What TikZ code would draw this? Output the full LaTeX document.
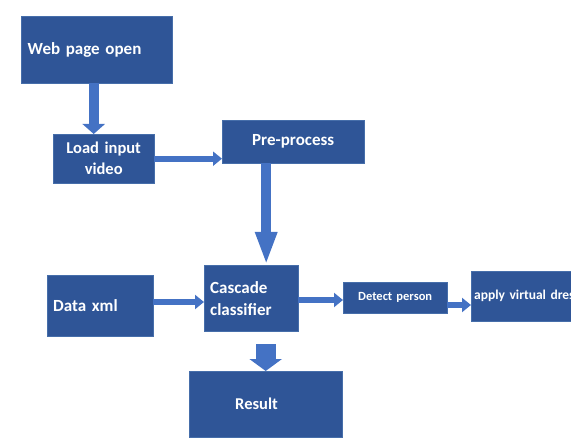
\documentclass[tikz,border=0pt]{standalone}
\usepackage{fontspec}
\setmainfont{Carlito}
\usepackage{tikz}
\usetikzlibrary{arrows.meta}

\definecolor{boxblue}{RGB}{47,85,151}
\definecolor{boxedge}{RGB}{70,110,170}
\definecolor{arrowblue}{RGB}{68,114,196}

\tikzset{
  blk/.style={draw=boxedge, fill=boxblue, text=white, font=\bfseries,
    inner sep=0pt, anchor=north west},
  thin flow/.style={draw=arrowblue, line width=6pt,
    -{Triangle[length=9pt,width=14pt]}},
  fat flow/.style={draw=arrowblue, line width=10pt,
    -{Triangle[length=10pt,width=22pt]}}
}

\begin{document}
\begin{tikzpicture}[x=1pt,y=-1pt]
      \useasboundingbox (0,0) rectangle (571,441);
      \clip (0,0) rectangle (571,441);
      % boxes
      \node [blk, minimum width=151, minimum height=67, text width=138, align=left, font=\bfseries\fontsize{17}{19}\selectfont] (web) at (21,16) {Web page open\\[4pt]};
      \node [blk, minimum width=101, minimum height=49, text width=95, align=center, font=\bfseries\fontsize{16.5}{21}\selectfont] (load) at (53,134) {Load input\\video};
      \node [blk, minimum width=142, minimum height=43, text width=130, align=center, font=\bfseries\fontsize{17}{19}\selectfont] (pre) at (222,120) {Pre-process\\[4pt]};
      \node [blk, minimum width=106, minimum height=61, text width=94, align=left, font=\bfseries\fontsize{17}{19}\selectfont] (data) at (47,275) {Data xml};
      \node [blk, minimum width=94, minimum height=66, text width=82, align=left, font=\bfseries\fontsize{17}{22}\selectfont] (casc) at (204,265) {Cascade\\classifier\\[2pt]};
      \node [blk, minimum width=153, minimum height=66, text width=61, align=left, font=\bfseries\fontsize{16.5}{19}\selectfont] (res) at (189,371) {Result\\[4pt]};
      \node [blk, minimum width=104, minimum height=31, text width=96, align=center, font=\bfseries\fontsize{12.5}{14}\selectfont] (det) at (343,282) {Detect person\\[1pt]};
      \node [blk, minimum width=130, minimum height=50, text width=124, align=left, font=\bfseries\fontsize{13.5}{15}\selectfont] (dress) at (471,271) {apply virtual dress\\[2pt]};
      % arrows
      \coordinate (webout) at ([xshift=-3]web.south);
      \coordinate (preout) at ([xshift=-27]pre.south);
      \coordinate (resin) at ([yshift=27]res.north);
      \draw [fat flow] (webout) -- (webout |- load.north);
      \draw [thin flow] (load.east) -- (load.east -| pre.west);
      \draw [draw=arrowblue, line width=10pt, -{Triangle[length=33pt,width=20pt]}] (preout) -- (preout |- casc.north);
      \draw [thin flow] (data.east |- 0,302) -- (casc.west |- 0,302);
      \draw [thin flow] (casc.east |- 0,300) -- (det.west |- 0,300);
      \draw [draw=arrowblue, line width=20pt, -{Triangle[length=12pt,width=32pt]}] (resin) -- (res.north);
      \draw [thin flow] (det.east |- 0,305) -- (dress.west |- 0,305);
\end{tikzpicture}
\end{document}
